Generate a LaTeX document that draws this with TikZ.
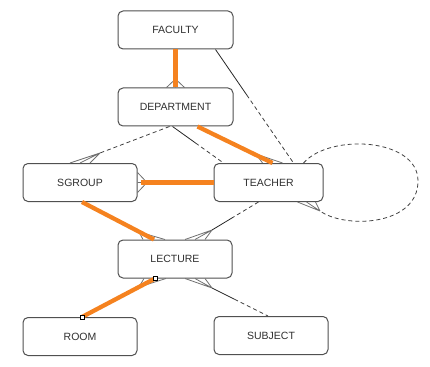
\documentclass[tikz,border=0pt]{standalone}
\usepackage{fontspec}
\setmainfont{Liberation Sans}
\usepackage{tikz}
\usetikzlibrary{calc, positioning}
\definecolor{edge}{HTML}{505050}
\definecolor{ink}{HTML}{303030}
\definecolor{hot}{HTML}{F5821F}
\definecolor{footgray}{HTML}{707070}

% crow's foot: apex, point on the border, half spread
\newcommand{\crowfoot}[3]{\draw[foot] (#1) -- (#2) (#1) -- ($(#2)+#3$) (#1) -- ($(#2)-#3$);}

\begin{document}
\begin{tikzpicture}[x=1pt, y=-1pt,
    font=\fontsize{10.5}{12}\selectfont,
    entity/.style={draw=edge, fill=white, rounded corners=5pt, line width=1pt, text=ink, minimum width=114pt, minimum height=38pt, inner sep=2pt},
    rel/.style={hot, line width=4.3pt},
    mand/.style={black!85, line width=0.8pt},
    opt/.style={black!75, line width=0.8pt, dash pattern=on 4pt off 3pt},
    foot/.style={footgray, line width=0.8pt},
    sq/.style={draw=black, fill=white, line width=0.5pt, minimum size=4pt, inner sep=0pt}
  ]
    \useasboundingbox (0,0) rectangle (430,366);
    \node[entity, minimum width=115pt] (fac) at (175.5,30) {FACULTY};
    \node[entity, minimum width=115pt, below=38pt of fac] (dept) {DEPARTMENT};
    \node[entity] (sgroup) at (80,182.5) {SGROUP};
    \node[entity, minimum width=109pt] (teacher) at (268.5,182.5) {TEACHER};
    \node[entity] (lect) at (175,259) {LECTURE};
    \node[entity, below=115pt of sgroup] (room) {ROOM};
    \node[entity] (subj) at (271,335.5) {SUBJECT};

    % border points and apexes of the crow's feet
    \coordinate (fdept) at (dept.north);
    \coordinate (adept) at (175.5,79);
    \coordinate (fsg) at (sgroup.north);
    \coordinate (asg) at (100,153);
    \coordinate (fsgr) at (sgroup.east);
    \coordinate (asgr) at (147,182.5);
    \coordinate (fteach) at ([xshift=4pt]teacher.north);
    \coordinate (ateach) at (256,154);
    \coordinate (floop) at ([xshift=-17pt]teacher.south east);
    \coordinate (aloop) at (320,211);
    \coordinate (flt) at ([xshift=20pt]lect.north);
    \coordinate (alt) at (212,230);
    \coordinate (flsg) at ([xshift=-21pt]lect.north);
    \coordinate (alsg) at (139,232);
    \coordinate (flr) at ([xshift=-20pt]lect.south);
    \coordinate (alr) at (139,287);
    \coordinate (fls) at ([xshift=20pt]lect.south);
    \coordinate (als) at (212,288);

    \crowfoot{adept}{fdept}{(9,0)}
    \crowfoot{asg}{fsg}{(10,0)}
    \crowfoot{asgr}{fsgr}{(0,10)}
    \crowfoot{ateach}{fteach}{(10,0)}
    \crowfoot{aloop}{floop}{(9,0)}
    \crowfoot{alt}{flt}{(10,0)}
    \crowfoot{alsg}{flsg}{(11,0)}
    \crowfoot{alr}{flr}{(11,0)}
    \crowfoot{als}{fls}{(10,0)}

    % faculty - teacher
    \draw[mand] ([xshift=-18pt]fac.south east) -- ($([xshift=-18pt]fac.south east)!0.4!([xshift=-30pt]teacher.north east)$);
    \draw[opt] ($([xshift=-18pt]fac.south east)!0.4!([xshift=-30pt]teacher.north east)$) -- ([xshift=-30pt]teacher.north east);
    % department - sgroup
    \draw[opt] ([xshift=-6pt]dept.south) -- (asg);
    % department - teacher
    \draw[mand] ([xshift=-3pt]dept.south) -- ($([xshift=-3pt]dept.south)!0.45!([xshift=-45pt]teacher.north)$);
    \draw[opt] ($([xshift=-3pt]dept.south)!0.45!([xshift=-45pt]teacher.north)$) -- ([xshift=-45pt]teacher.north);
    % teacher - teacher
    \draw[opt] ([xshift=-20pt]teacher.north east) .. controls (330,133) and (418,138) .. (418,181)
      .. controls (418,226) and (345,229) .. (aloop);
    % teacher - lecture
    \draw[opt] ([xshift=-10pt]teacher.south) -- ($([xshift=-10pt]teacher.south)!0.55!(alt)$);
    \draw[mand] ($([xshift=-10pt]teacher.south)!0.55!(alt)$) -- (alt);
    % lecture - subject
    \draw[mand] (als) -- ($(als)!0.4!([xshift=-3pt]subj.north)$);
    \draw[opt] ($(als)!0.4!([xshift=-3pt]subj.north)$) -- ([xshift=-3pt]subj.north);

    % highlighted path
    \draw[rel] (fac.south) -- (dept.north);
    \draw[rel] ([xshift=22pt]dept.south) -- (fteach);
    \draw[rel] ([xshift=3pt]sgroup.east) -- (teacher.west);
    \draw[rel] ([xshift=2pt]sgroup.south) -- (flsg);
    \draw[rel] (flr) -- ([xshift=2pt]room.north);
    \node[sq] (sqa) at (flr) {};
    \node[sq] (sqb) at ([xshift=2pt]room.north) {};
  \end{tikzpicture}
\end{document}
